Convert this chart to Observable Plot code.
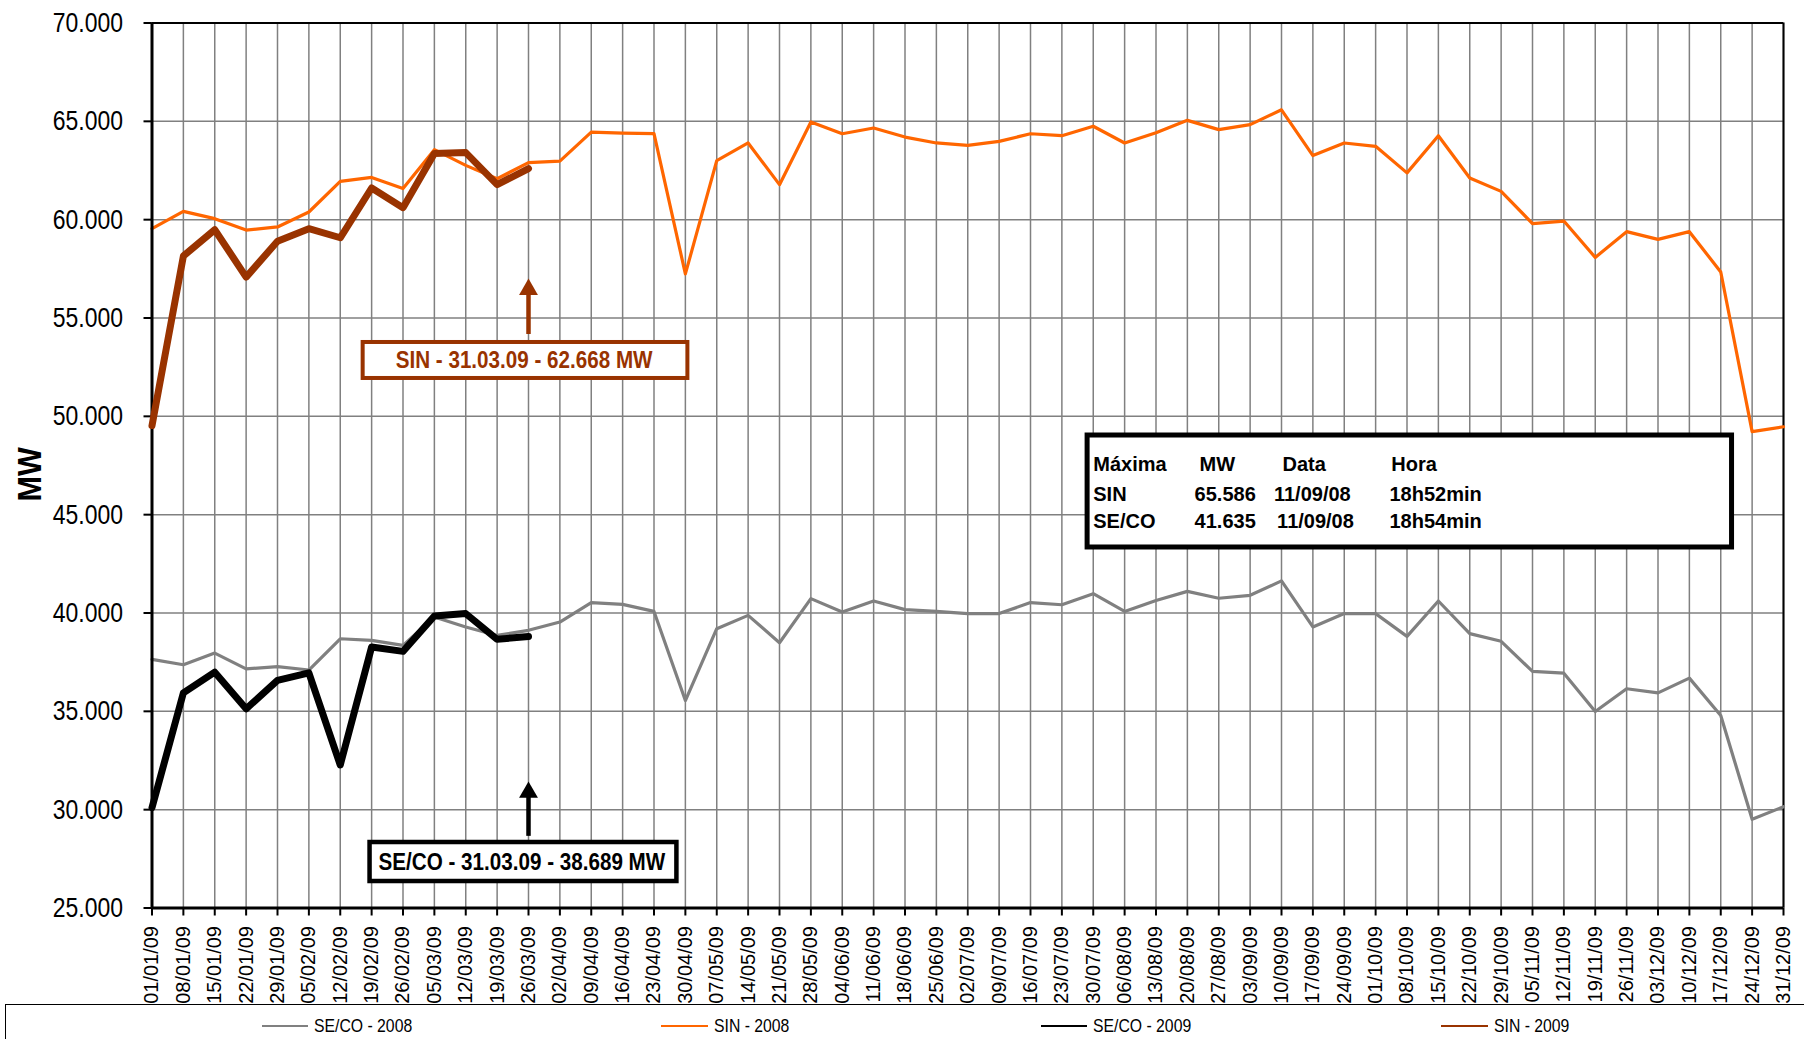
<!DOCTYPE html>
<html>
<head>
<meta charset="utf-8">
<script src="https://cdn.jsdelivr.net/npm/d3@7"></script>
<script src="https://cdn.jsdelivr.net/npm/@observablehq/plot@0.6"></script>
<style>
  body { margin: 0; background: #fff; font-family: "Liberation Sans", Arial, sans-serif; }
  #wrap { position: relative; width: 1804px; height: 1039px; overflow: hidden; }
  #chart { position: absolute; left: 0; top: 0; }
  #legend { position: absolute; left: 5px; top: 1004px; width: 1830px; height: 80px;
            border: 1.5px solid #000; box-sizing: border-box; background: #fff; }
  .lg-line { position: absolute; height: 2px; }
  .lg-text { position: absolute; font-size: 19px; line-height: 20px; white-space: nowrap;
             transform: scaleX(0.83); transform-origin: left center; color: #000; }
</style>
</head>
<body>
<div id="wrap">
  <div id="chart"></div>
  <div id="legend"></div>
</div>
<script>
// ---- data ----
const dates = ["01/01/09","08/01/09","15/01/09","22/01/09","29/01/09","05/02/09","12/02/09","19/02/09","26/02/09",
  "05/03/09","12/03/09","19/03/09","26/03/09","02/04/09","09/04/09","16/04/09","23/04/09","30/04/09",
  "07/05/09","14/05/09","21/05/09","28/05/09","04/06/09","11/06/09","18/06/09","25/06/09",
  "02/07/09","09/07/09","16/07/09","23/07/09","30/07/09","06/08/09","13/08/09","20/08/09","27/08/09",
  "03/09/09","10/09/09","17/09/09","24/09/09","01/10/09","08/10/09","15/10/09","22/10/09","29/10/09",
  "05/11/09","12/11/09","19/11/09","26/11/09","03/12/09","10/12/09","17/12/09","24/12/09","31/12/09"];

const seco2008 = [37640, 37370, 37960, 37160, 37270, 37100, 38690, 38610, 38350, 39800,
  39290, 38860, 39120, 39540, 40530, 40440, 40080, 35550, 39200, 39880,
  38490, 40730, 40050, 40610, 40170, 40080, 39970, 39970, 40530, 40420,
  40980, 40080, 40640, 41100, 40750, 40900, 41635, 39290, 39970, 39970,
  38810, 40610, 38950, 38560, 37030, 36940, 34990, 36150, 35940, 36690,
  34790, 29510, 30150];

const sin2008 = [59540, 60420, 60050, 59470, 59630, 60390, 61950, 62150, 61580, 63560,
  62760, 62080, 62900, 62980, 64450, 64400, 64370, 57240, 63000, 63900,
  61780, 64970, 64370, 64660, 64200, 63900, 63780, 63980, 64370, 64270,
  64750, 63900, 64420, 65050, 64580, 64830, 65586, 63260, 63900, 63730,
  62380, 64270, 62120, 61440, 59800, 59930, 58080, 59390, 59000, 59390,
  57340, 49220, 49470];

const seco2009 = [30100, 35940, 36990, 35130, 36570, 36960, 32270, 38270, 38050, 39850, 39970, 38660, 38810];
const sin2009  = [49530, 58150, 59490, 57080, 58900, 59540, 59080, 61610, 60610, 63360, 63410, 61780, 62600];

const yTicks = [25000, 30000, 35000, 40000, 45000, 50000, 55000, 60000, 65000, 70000];

const seriesNames  = ["SE/CO - 2008", "SIN - 2008", "SE/CO - 2009", "SIN - 2009"];
const seriesColors = ["#808080", "#FF6600", "#000000", "#993300"];

const infoHeader = ["Máxima", "MW", "Data", "Hora"];
const infoSIN    = ["SIN", "65.586", "11/09/08", "18h52min"];
const infoSECO   = ["SE/CO", "41.635", "11/09/08", "18h54min"];

const noteSIN  = "SIN - 31.03.09 - 62.668 MW";
const noteSECO = "SE/CO - 31.03.09 - 38.689 MW";
const yLabel = "MW";

// ---- tables ----
const idx = dates.map((d, i) => i);
const toRows = arr => arr.map((v, i) => ({i, v}));

// annotation anchors (week index / MW)
const noteWeek = 12;
const infoCols = [30.0, 33.39, 36.03, 39.5];
const infoColsRow = [30.0, 33.23, 35.76, 39.44];
const infoText = [
  ...infoHeader.map((t, k) => ({t, x: infoCols[k], y: 47571})),
  ...infoSIN.map((t, k) => ({t, x: infoColsRow[k], y: 46046})),
  ...infoSECO.map((t, k) => ({t, x: infoColsRow[k] + (k === 2 ? 0.1 : 0), y: 44673}))
];

const stroke = {stroke: "#808080", strokeWidth: 1.5};

const chart = Plot.plot({
  width: 1804,
  height: 1004,
  marginTop: 22.5,
  marginBottom: 96.5,
  marginLeft: 151.5,
  marginRight: 21,
  style: {fontFamily: "'Liberation Sans', Arial, sans-serif", background: "white", overflow: "visible", color: "black"},
  x: {type: "linear", domain: [0, dates.length - 1]},
  y: {domain: [25000, 70000]},
  marks: [
    Plot.ruleY(yTicks, stroke),
    Plot.ruleX(idx, stroke),
    Plot.axisX(idx, {tickFormat: i => dates[i], tickRotate: -90, tickSize: 8, tickPadding: 10,
      fontSize: 20, strokeWidth: 2, label: null}),
    Plot.axisY(yTicks, {tickFormat: d => (d / 1000).toFixed(3), tickSize: 8, tickPadding: 21,
      fontSize: 28, strokeWidth: 2, label: null}),
    Plot.ruleY([70000], {stroke: "black", strokeWidth: 2}),
    Plot.ruleX([dates.length - 1], {stroke: "black", strokeWidth: 2}),
    Plot.line(toRows(seco2008), {x: "i", y: "v", stroke: seriesColors[0], strokeWidth: 3.2}),
    Plot.line(toRows(sin2008), {x: "i", y: "v", stroke: seriesColors[1], strokeWidth: 3.2}),
    Plot.ruleY([25000], {stroke: "black", strokeWidth: 3}),
    Plot.ruleX([0], {stroke: "black", strokeWidth: 3}),
    Plot.line(toRows(seco2009), {x: "i", y: "v", stroke: seriesColors[2], strokeWidth: 7}),
    Plot.line(toRows(sin2009), {x: "i", y: "v", stroke: seriesColors[3], strokeWidth: 7}),
    // SIN note
    Plot.ruleX([noteWeek], {y1: 54162, y2: 56400, stroke: "#993300", strokeWidth: 4.5}),
    Plot.dot([noteWeek], {x: d => d, y: 56958, symbol: "triangle", r: 7, fill: "#993300", stroke: null, dy: 10}),
    Plot.rect([{x1: 6.73, x2: 17.08, y1: 51925, y2: 53755}], {x1: "x1", x2: "x2", y1: "y1", y2: "y2",
      fill: "white", stroke: "#993300", strokeWidth: 4}),
    Plot.text([noteSIN], {x: 11.86, y: 52839, text: d => d, fill: "#993300", fontSize: 24, fontWeight: "bold"}),
    // SE/CO note
    Plot.ruleX([noteWeek], {y1: 28643, y2: 30850, stroke: "black", strokeWidth: 4.5}),
    Plot.dot([noteWeek], {x: d => d, y: 31388, symbol: "triangle", r: 7, fill: "black", stroke: null, dy: 10}),
    Plot.rect([{x1: 6.95, x2: 16.73, y1: 26347, y2: 28330}], {x1: "x1", x2: "x2", y1: "y1", y2: "y2",
      fill: "white", stroke: "black", strokeWidth: 4.5}),
    Plot.text([noteSECO], {x: 11.79, y: 27339, text: d => d, fill: "black", fontSize: 24, fontWeight: "bold"}),
    // info box
    Plot.rect([{x1: 29.82, x2: 50.36, y1: 43331, y2: 49025}], {x1: "x1", x2: "x2", y1: "y1", y2: "y2",
      fill: "white", stroke: "black", strokeWidth: 5}),
    Plot.text(infoText, {x: "x", y: "y", text: "t", textAnchor: "start", fill: "black", fontSize: 20, fontWeight: "bold"}),
    // y label
    Plot.text([yLabel], {frameAnchor: "left", text: d => d, rotate: -90, dx: -122, dy: 36,
      fontSize: 34, fontWeight: "bold", fill: "black"})
  ]
});

document.getElementById("chart").appendChild(chart);

// condensed look for several texts
function squeezeEl(t, k) {
  const tr = t.getAttribute("transform") || "";
  t.setAttribute("transform", tr + ` scale(${k},1)`);
}
chart.querySelectorAll('g[aria-label="y-axis tick label"] text').forEach(t => squeezeEl(t, 0.82));
chart.querySelectorAll("text").forEach(t => {
  const s = t.textContent;
  if (s === noteSIN || s === noteSECO) squeezeEl(t, 0.86);
  else if (s === yLabel && t.getAttribute("font-size") !== "20") {
    if ((t.getAttribute("transform") || "").includes("rotate")) squeezeEl(t, 0.9);
  }
});

// legend
const legend = document.getElementById("legend");
const lgLines = [[262, 308], [661, 708], [1041, 1087], [1441, 1488]];
seriesNames.forEach((name, k) => {
  const ln = document.createElement("div");
  ln.className = "lg-line";
  ln.style.left = (lgLines[k][0] - 6.5) + "px";
  ln.style.width = (lgLines[k][1] - lgLines[k][0]) + "px";
  ln.style.top = (1026 - 1004 - 2.5) + "px";
  ln.style.background = seriesColors[k];
  legend.appendChild(ln);
  const tx = document.createElement("div");
  tx.className = "lg-text";
  tx.textContent = name;
  tx.style.left = (lgLines[k][1] + 6 - 6.5) + "px";
  tx.style.top = (1026 - 1004 - 11.5) + "px";
  legend.appendChild(tx);
});
</script>
</body>
</html>
